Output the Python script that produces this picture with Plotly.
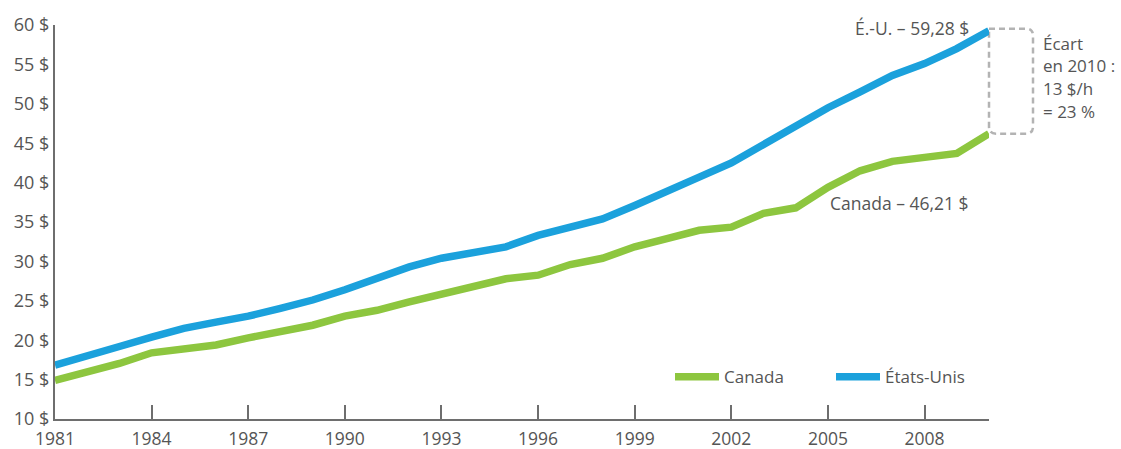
import plotly.graph_objects as go

years = list(range(1981, 2011))
canada = [14.9, 16.0, 17.05, 18.4, 18.96, 19.4, 20.3, 21.07, 21.9, 23.05,
          23.8, 24.87, 25.9, 26.86, 27.8, 28.25, 29.6, 30.4, 31.85, 32.9,
          33.95, 34.35, 36.1, 36.8, 39.4, 41.5, 42.7, 43.2, 43.7, 46.21]
usa = [16.84, 17.9, 19.2, 20.4, 21.5, 22.3, 23.05, 24.05, 25.1, 26.4,
       27.8, 29.3, 30.4, 31.2, 31.85, 33.3, 34.4, 35.4, 37.1, 39.0,
       40.7, 42.5, 44.9, 47.3, 49.5, 51.5, 53.6, 55.1, 57.0, 59.28]
series_names = ["Canada", "États-Unis"]
label_us = "É.-U. – 59,28 $"
label_ca = "Canada – 46,21 $"
gap_lines = ["Écart", "en 2010 :", "13 $/h", "= 23 %"]
y_ticks = list(range(10, 61, 5))
y_ticktext = [f"{v} $" for v in y_ticks]
x_ticks = list(range(1981, 2010, 3))

GREEN = "#8dc63f"
BLUE = "#1ba1dc"
TXT = "#555555"
AX = "#6e6e6e"
FONT = "Open Sans"

W, H = 1121, 449
ML, MR, MT, MB = 55, 132, 25, 30
PW = W - ML - MR
PH = H - MT - MB
YMIN, YMAX = 10, 60

fig = go.Figure()
fig.add_trace(go.Scatter(x=years, y=canada, mode="lines", name=series_names[0],
                         line=dict(color=GREEN, width=7.5)))
fig.add_trace(go.Scatter(x=years, y=usa, mode="lines", name=series_names[1],
                         line=dict(color=BLUE, width=7.5)))

# bracket between the 2010 values (paper coordinates derived from data)
def ypaper(v):
    return (v - YMIN) / (YMAX - YMIN)

x0 = 1.0
x1 = 1.0 + 44 / PW
rx = 7 / PW
ry = 7 / PH
yt = ypaper(usa[-1]) + 2 / PH
yb = ypaper(canada[-1])
path = (f"M{x0},{yt} L{x1 - rx},{yt} Q{x1},{yt} {x1},{yt - ry} "
        f"L{x1},{yb + ry} Q{x1},{yb} {x1 - rx},{yb} "
        f"L{x0 + rx},{yb} Q{x0},{yb} {x0},{yb + ry} L{x0},{yt}")
fig.add_shape(type="path", path=path, xref="paper", yref="paper",
              line=dict(color="#b3b3b3", width=2.5, dash="6px,4px"), layer="below")

fig.add_annotation(x=years[-1], y=usa[-1], text=label_us, showarrow=False,
                   xanchor="right", yanchor="middle", xshift=-18, yshift=3,
                   font=dict(family=FONT, size=17.5, color=TXT))
fig.add_annotation(x=years[-1], y=canada[-1], text=label_ca, showarrow=False,
                   xanchor="right", yanchor="middle", xshift=-18, yshift=-69,
                   font=dict(family=FONT, size=17.5, color=TXT))
mid = (usa[-1] + canada[-1]) / 2
n = len(gap_lines)
for i, t in enumerate(gap_lines):
    fig.add_annotation(x=1.0, xref="paper", y=mid, text=t, showarrow=False,
                       xanchor="left", yanchor="middle", xshift=52,
                       yshift=(n - 1) / 2 * 22.6 - i * 22.6 + 5,
                       font=dict(family=FONT, size=17, color=TXT))

fig.update_layout(
    width=W, height=H,
    margin=dict(l=ML, r=MR, t=MT, b=MB, autoexpand=False),
    paper_bgcolor="white", plot_bgcolor="white",
    font=dict(family=FONT, size=17, color=TXT),
    showlegend=True,
    legend=dict(orientation="h", x=(670 - ML) / PW, xanchor="left",
                y=0.106, yanchor="middle", bgcolor="rgba(0,0,0,0)",
                font=dict(family=FONT, size=17, color=TXT),
                itemwidth=44, entrywidth=102, traceorder="normal"),
    xaxis=dict(range=[1981, 2010], tickvals=x_ticks, ticktext=[str(v) for v in x_ticks],
               ticks="inside", ticklen=14, tickwidth=1.5, tickcolor=AX,
               ticklabelstandoff=3, automargin=False,
               showline=True, linecolor=AX, linewidth=2, showgrid=False, zeroline=False,
               tickfont=dict(family=FONT, size=17.5, color=TXT)),
    yaxis=dict(range=[YMIN, YMAX], tickvals=y_ticks, ticktext=y_ticktext,
               ticks="", showline=True, linecolor=AX, linewidth=2, automargin=False,
               showgrid=False, zeroline=False,
               tickfont=dict(family=FONT, size=18, color=TXT)),
)

fig.write_html("out.html", config={"displayModeBar": False},
               post_script="document.body.style.margin='0';")
